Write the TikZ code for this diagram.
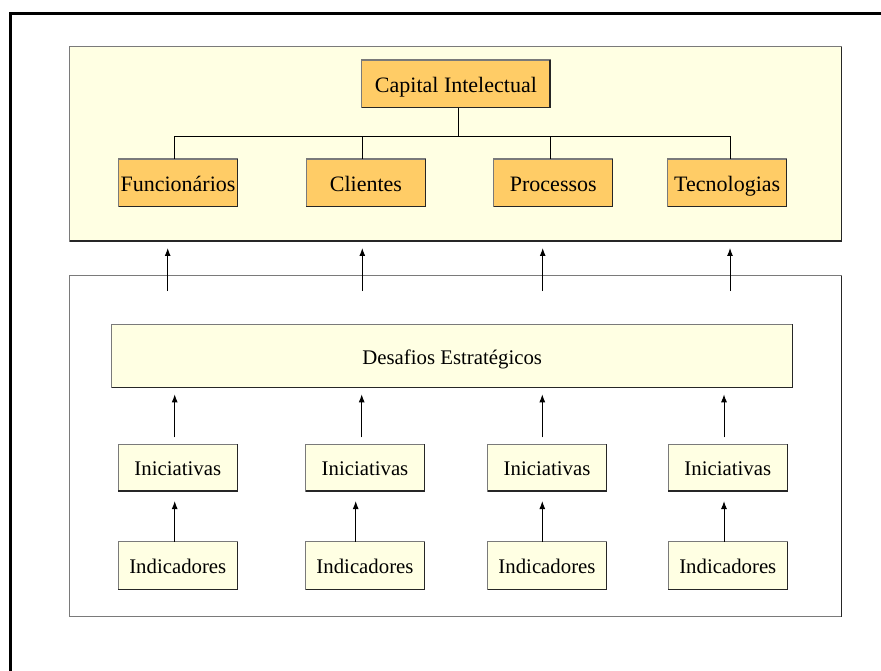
\documentclass[tikz,border=0pt]{standalone}
\usepackage{fontspec}
\setmainfont{Liberation Serif}
\usetikzlibrary{arrows.meta}
\definecolor{paleyellow}{HTML}{FFFFE3}
\definecolor{boxorange}{HTML}{FFCC66}
\definecolor{edgegray}{HTML}{7A7A7A}
\definecolor{edgedark}{HTML}{262626}
\tikzset{
  bevel/.style={draw=edgegray, line width=1.2pt, inner sep=0pt, outer sep=0pt},
  shade edge/.style={draw=edgedark, line width=1.2pt},
  panel/.style={bevel, rectangle, anchor=north west},
  topbox/.style={bevel, fill=boxorange, minimum width=119pt, minimum height=47.7pt,
    font=\fontsize{22}{26}\selectfont, text height=16.8pt, text depth=0pt},
  lowbox/.style={bevel, fill=paleyellow, minimum width=119pt, minimum height=47pt,
    font=\fontsize{20.8}{25}\selectfont, text height=16.5pt, text depth=0pt},
  link/.style={draw=black, line width=1pt},
  arr/.style={draw=black, line width=1pt, -{Latex[length=8pt,width=6pt]}}
}
\begin{document}
\begin{tikzpicture}[x=1pt,y=-1pt]
  \useasboundingbox (0,0) rectangle (881,671);
  \clip (0,0) rectangle (881,671);
  % frame
  \draw[black, line width=3pt] (881,14) -- (10,14) -- (10,671);

  % panels
  \node[panel, fill=paleyellow, minimum width=772.2pt, minimum height=194.3pt] (capgroup) at (69.5,46.7) {};
  \node[panel, fill=white, minimum width=772.2pt, minimum height=341pt] (lowgroup) at (69.5,275.7) {};
  \draw[shade edge] (capgroup.south west) -- (capgroup.south east) -- (capgroup.north east);
  \draw[shade edge] (lowgroup.south east) -- (lowgroup.north east);

  % capital intellectual tree
  \node[topbox, minimum width=188.3pt] (cap) at (455.9,83.9) {Capital Intelectual};
  \node[topbox] (func) at (178,182.9) {Funcionários};
  \node[topbox] (cli) at (365.9,182.9) {Clientes};
  \node[topbox] (proc) at (553.3,182.9) {Processos};
  \node[topbox] (tec) at (727.2,182.9) {Tecnologias};

  \coordinate (bar) at (0,137);
  \coordinate (capx) at (458.7,0);
  \coordinate (t1) at (174,0);
  \coordinate (t2) at (362,0);
  \coordinate (t3) at (550,0);
  \coordinate (t4) at (730.5,0);
  \draw[link] (cap.south -| capx) -- (bar -| capx);
  \draw[link] (func.north -| t1) -- (bar -| t1) -- (bar -| t4) -- (tec.north -| t4);
  \draw[link] (cli.north -| t2) -- (bar -| t2);
  \draw[link] (proc.north -| t3) -- (bar -| t3);

  % arrows between the two panels
  \foreach \i/\x in {1/167.7, 2/362.3, 3/542.7, 4/730}{
    \coordinate (p\i) at (\x,0);
    \draw[arr, shorten >=7pt] ([yshift=-15.3pt]lowgroup.north -| p\i) -- (capgroup.south -| p\i);
  }

  % strategic challenges
  \node[lowbox, minimum width=681pt, minimum height=63pt] (desafios) at (452.2,355.8) {Desafios Estratégicos};

  % initiatives and indicators
  \foreach \i/\x in {1/177.8, 2/365, 3/547, 4/727.8}{
    \node[lowbox, minimum height=46.7pt] (ini\i) at (\x,467.7) {Iniciativas};
    \node[lowbox, minimum height=47.6pt] (ind\i) at (\x,565.5) {Indicadores};
  }

  % darker lower and right edges of the boxes
  \foreach \n in {cap,func,cli,proc,tec,desafios,ini1,ini2,ini3,ini4,ind1,ind2,ind3,ind4}{
    \draw[shade edge] (\n.south west) -- (\n.south east) -- (\n.north east);
  }

  \foreach \i/\xa/\xb in {1/174.7/174.7, 2/361.7/355.7, 3/542.3/542.3, 4/724/724}{
    \coordinate (u\i) at (\xa,0);
    \coordinate (l\i) at (\xb,0);
    \draw[arr, shorten <=7pt, shorten >=7pt] (ini\i.north -| u\i) -- (desafios.south -| u\i);
    \draw[arr, shorten >=10pt] (ind\i.north -| l\i) -- (ini\i.south -| l\i);
  }
\end{tikzpicture}
\end{document}
